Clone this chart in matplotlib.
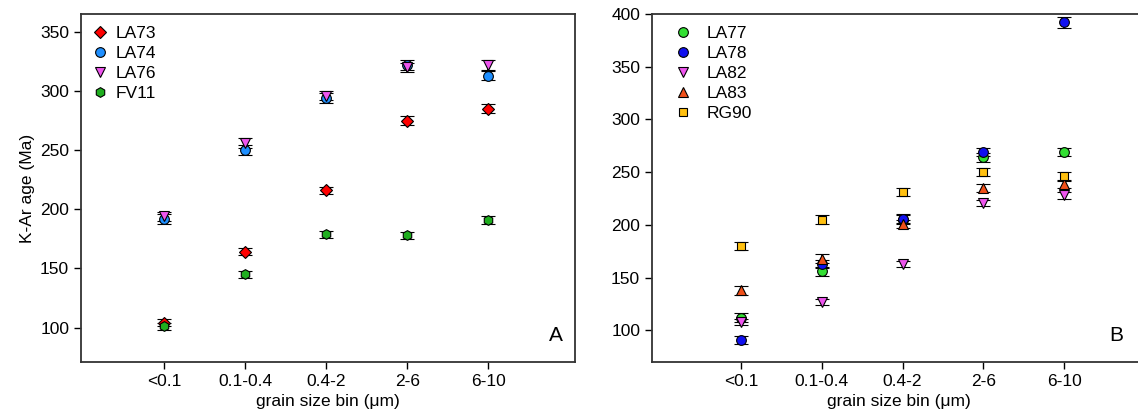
import matplotlib
matplotlib.use("Agg")
import matplotlib.pyplot as plt
from matplotlib.lines import Line2D
import numpy as np

plt.rcParams['font.family'] = ['Liberation Sans', 'DejaVu Sans']
plt.rcParams['font.size'] = 12

bins = ["<0.1", "0.1-0.4", "0.4-2", "2-6", "6-10"]
x = np.arange(1, 6)

# panel A
la73 = [104, 164, 216, 275, 285]
la73_err = [3, 3, 3, 4, 4]
la74 = [192, 250, 294, 322, 313]
la74_err = [4, 4, 4, 4, 4]
la76 = [194, 256, 296, 320, 322]
la76_err = [4, 4, 4, 4, 4]
fv11 = [101, 145, 179, 178, 191]
fv11_err = [3, 3, 3, 3, 3]

# panel B
la77 = [112, 156, 205, 264, 269]
la77_err = [4, 4, 4, 4, 4]
la78 = [91, 163, 206, 269, 392]
la78_err = [4, 4, 4, 4, 5]
la82 = [108, 127, 163, 221, 228]
la82_err = [3, 3, 3, 3, 3]
la83 = [138, 168, 201, 235, 239]
la83_err = [4, 4, 4, 4, 4]
rg90 = [180, 205, 231, 250, 246]
rg90_err = [4, 4, 4, 4, 4]

seriesA = [("LA73", la73, la73_err, "D", "#ff0000", 6),
           ("LA74", la74, la74_err, "o", "#1e8fff", 7),
           ("LA76", la76, la76_err, "v", "#ee55ee", 7),
           ("FV11", fv11, fv11_err, "h", "#1fae1f", 7)]
seriesB = [("LA77", la77, la77_err, "o", "#33e033", 7),
           ("LA78", la78, la78_err, "o", "#1010f0", 7),
           ("LA82", la82, la82_err, "v", "#ee55ee", 7),
           ("LA83", la83, la83_err, "^", "#f0501a", 7),
           ("RG90", rg90, rg90_err, "s", "#ffc010", 6)]

fig = plt.figure(figsize=(11.38, 4.19), dpi=100)
axA = fig.add_axes([81/1138, 57/419, 494/1138, 348/419])
axB = fig.add_axes([652/1138, 57/419, 493/1138, 348/419])


def draw(ax, series, gap, anchor):
    handles = []
    for name, y, e, m, c, ms in series:
        ax.errorbar(x, y, yerr=e, fmt=m, color="black", mfc=c, mec="black",
                    mew=0.8, ms=ms, ecolor="black", elinewidth=1.2,
                    capsize=5, capthick=1.5)
        handles.append(Line2D([], [], ls="none", marker=m, mfc=c, mec="black",
                              mew=0.8, ms=ms, label=name))
    ax.set_xticks(x)
    ax.set_xticklabels(bins)
    ax.set_xlabel("grain size bin (\u03bcm)", fontsize=12.5)
    ax.tick_params(direction="out", length=5, width=1, labelsize=12.5)
    for s in ax.spines.values():
        s.set_linewidth(1.3)
        s.set_color("#333333")
    ax.legend(handles=handles, loc="upper left", bbox_to_anchor=anchor,
              frameon=False, fontsize=12.5, handlelength=1,
              handletextpad=gap, labelspacing=0.29, borderaxespad=0,
              borderpad=0, numpoints=1)


draw(axA, seriesA, 0.45, (0.02, 0.967))
draw(axB, seriesB, 0.85, (0.045, 0.967))

axA.set_xlim(-0.03, 6.07)
axA.set_ylim(71, 365)
axA.set_yticks([100, 150, 200, 250, 300, 350])
axA.set_ylabel("K-Ar age (Ma)", fontsize=12.5)
axA.text(0.975, 0.05, "A", transform=axA.transAxes, ha="right", va="bottom", fontsize=15)

axB.set_xlim(-0.1, 6.0)
axB.set_ylim(70, 400)
axB.set_yticks([100, 150, 200, 250, 300, 350, 400])
axB.text(0.955, 0.05, "B", transform=axB.transAxes, ha="right", va="bottom", fontsize=15)

fig.savefig("out.png", dpi=100)
